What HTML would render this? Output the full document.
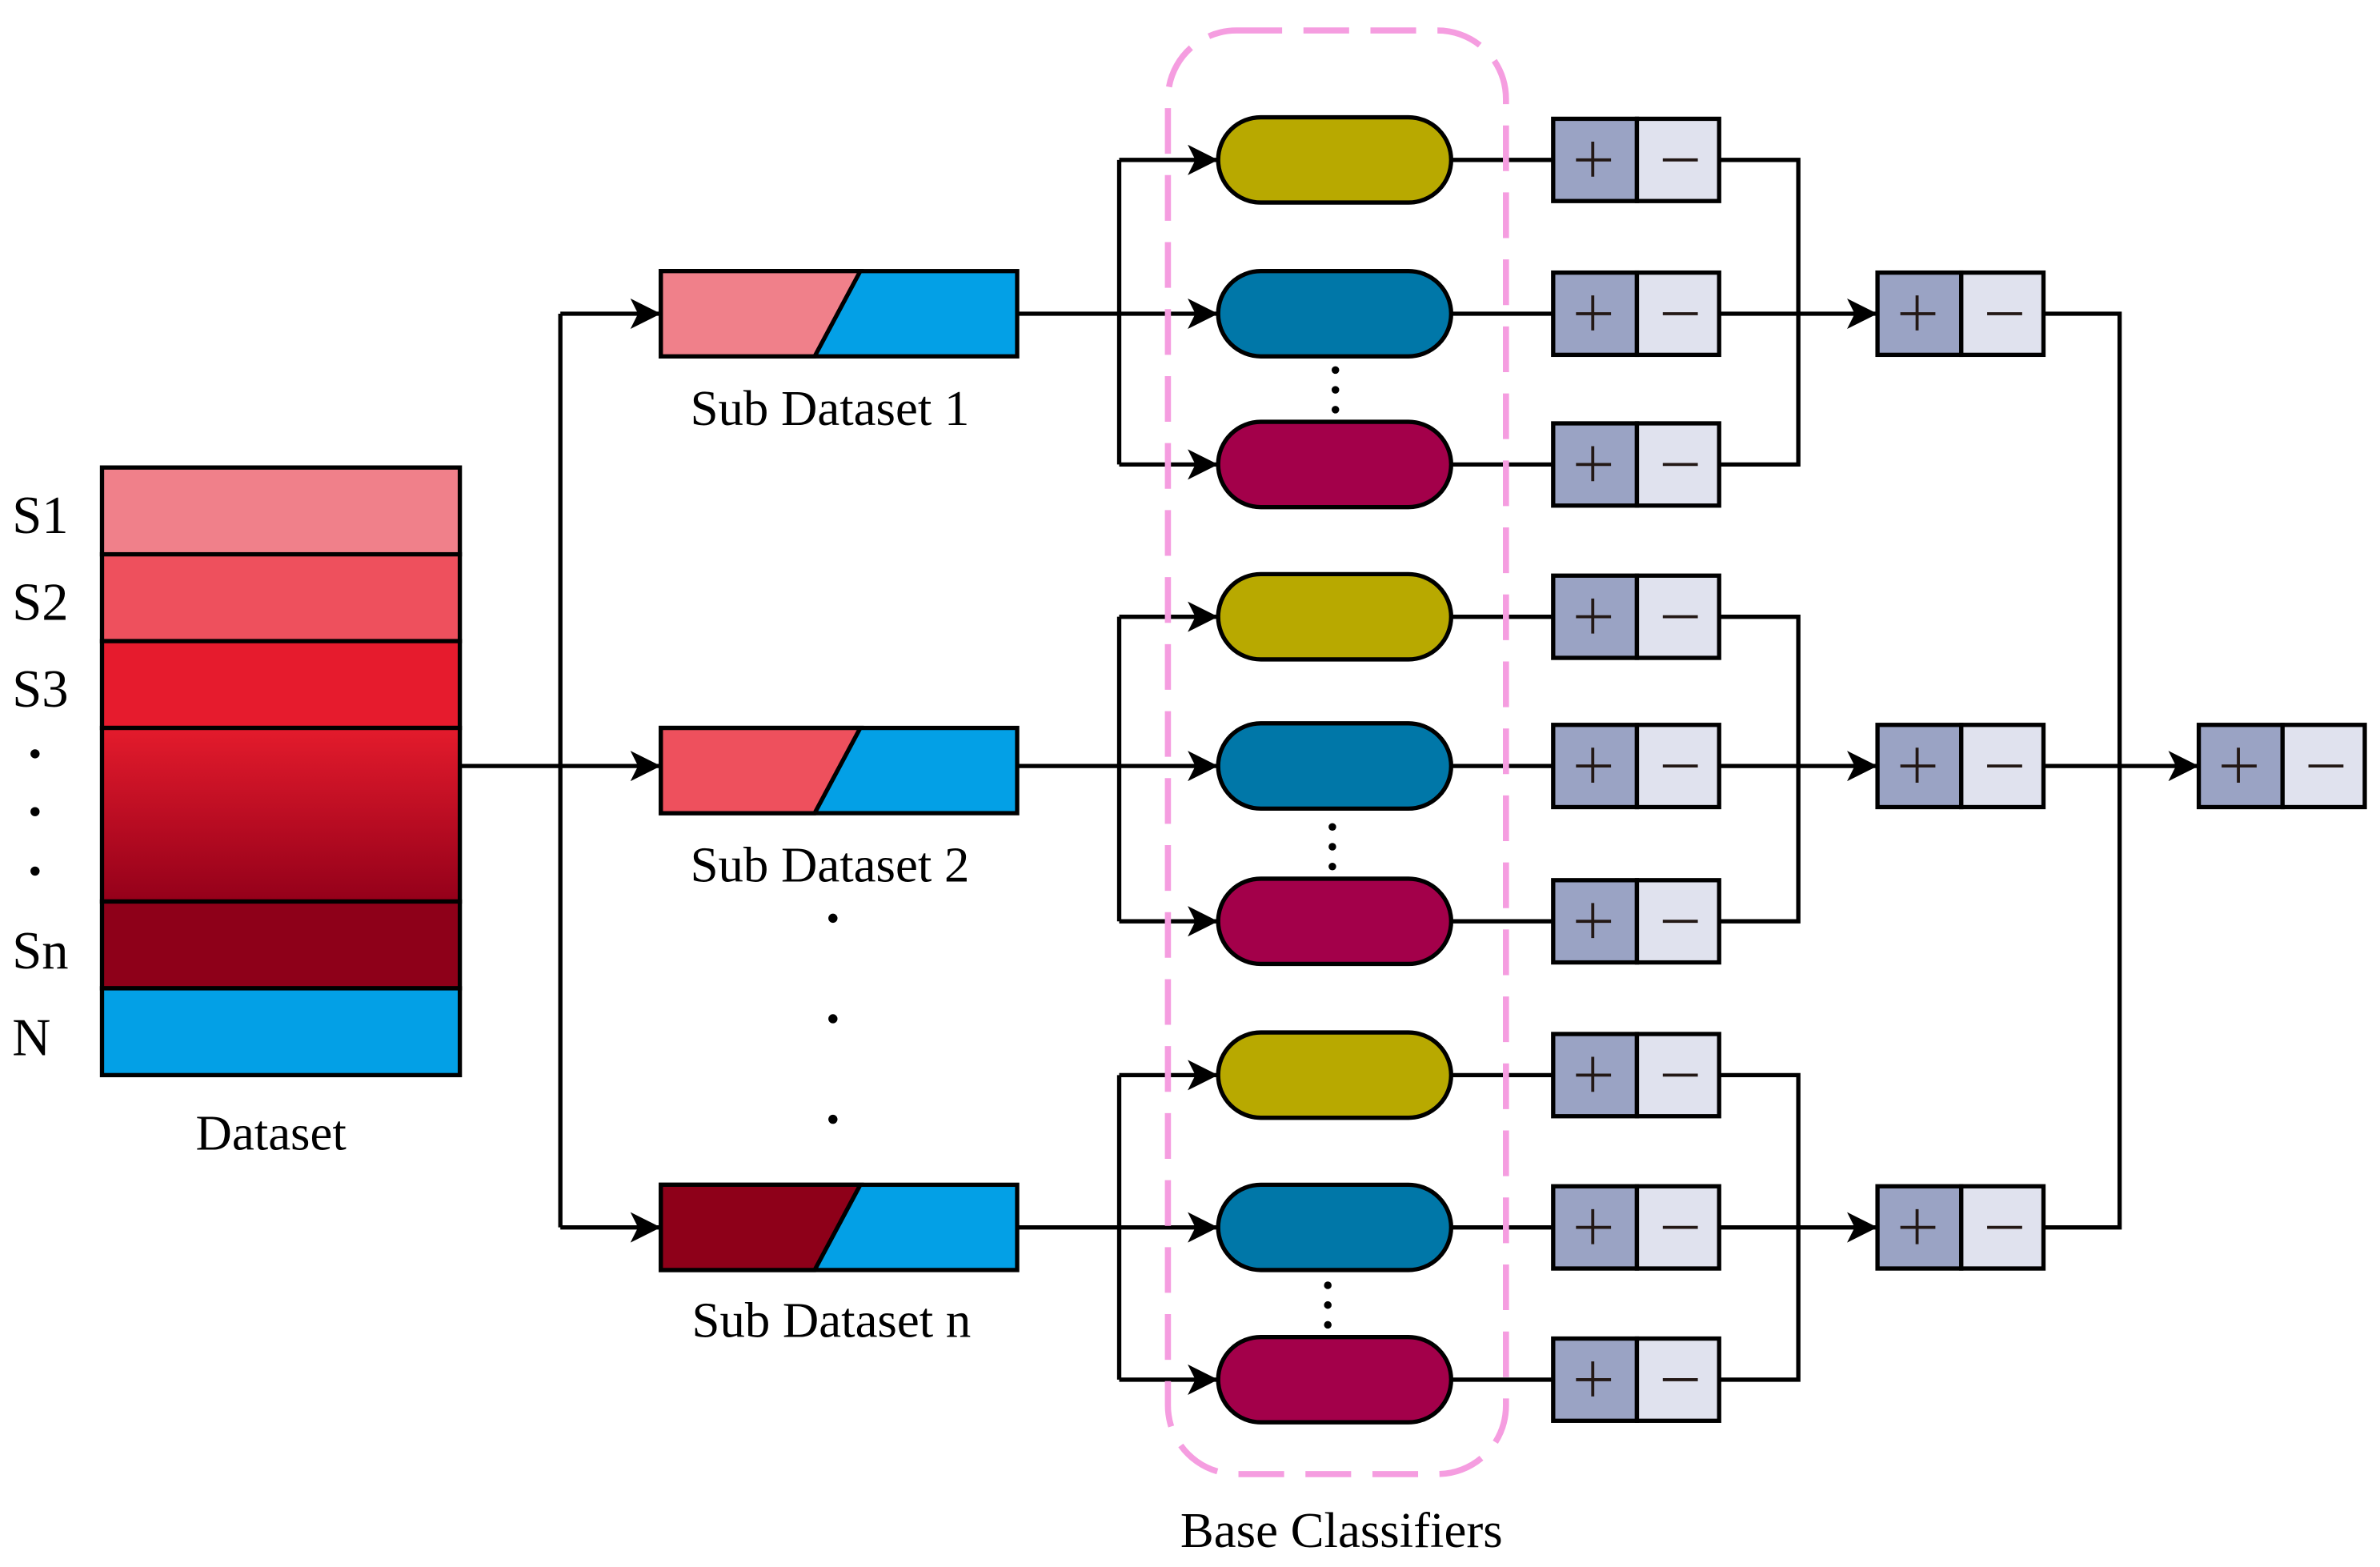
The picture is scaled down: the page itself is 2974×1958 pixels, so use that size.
<!DOCTYPE html>
<html><head><meta charset="utf-8"><style>html,body{margin:0;padding:0;background:#fff}svg{display:block}</style></head><body>
<svg width="2974" height="1958" viewBox="0 0 1563 1029" xmlns="http://www.w3.org/2000/svg" font-family="'Liberation Serif', serif">
<defs>
<linearGradient id="g" x1="0" y1="0" x2="0" y2="1"><stop offset="0" stop-color="#e41b2c"/><stop offset="1" stop-color="#94001a"/></linearGradient>
<marker id="a" viewBox="0 0 20 20" refX="19" refY="10" markerWidth="22" markerHeight="20" markerUnits="userSpaceOnUse" orient="auto"><path d="M0,0 L20,10 L0,20 L5,10 Z" fill="#000"/></marker>
</defs>
<g stroke="#000" stroke-width="2.8">
<rect x="67" y="307" width="235" height="57" fill="#f0808a"/>
<rect x="67" y="364" width="235" height="57" fill="#ee505d"/>
<rect x="67" y="421" width="235" height="57" fill="#e61b2d"/>
<rect x="67" y="478" width="235" height="114" fill="url(#g)"/>
<rect x="67" y="592" width="235" height="57" fill="#8e0019"/>
<rect x="67" y="649" width="235" height="57" fill="#03a0e6"/>
</g>
<g font-size="35" fill="#000">
<text x="8" y="350">S1</text><text x="8" y="407">S2</text><text x="8" y="464">S3</text>
<text x="8" y="636">Sn</text><text x="8" y="693">N</text>
<text x="178" y="755" text-anchor="middle" font-size="33">Dataset</text>
<text x="545" y="279" text-anchor="middle" font-size="33">Sub Dataset 1</text>
<text x="545" y="579" text-anchor="middle" font-size="33">Sub Dataset 2</text>
<text x="546" y="878" text-anchor="middle" font-size="33">Sub Dataset n</text>
<text x="881" y="1016" text-anchor="middle" font-size="33">Base Classifiers</text>
</g>
<g fill="#000"><circle cx="23" cy="495" r="3"/><circle cx="23" cy="533" r="3"/><circle cx="23" cy="572" r="3"/>
<circle cx="547" cy="603" r="3"/><circle cx="547" cy="669" r="3"/><circle cx="547" cy="735" r="3"/>
<circle cx="877" cy="243" r="2.5"/><circle cx="877" cy="256" r="2.5"/><circle cx="877" cy="269" r="2.5"/>
<circle cx="875" cy="543" r="2.5"/><circle cx="875" cy="556" r="2.5"/><circle cx="875" cy="569" r="2.5"/>
<circle cx="872" cy="844" r="2.5"/><circle cx="872" cy="857" r="2.5"/><circle cx="872" cy="870" r="2.5"/></g>
<g stroke="#000" stroke-width="2.8" fill="none">
<path d="M302,503H368M368,206V806"/>
<path d="M368,206H433" marker-end="url(#a)"/><path d="M368,503H433" marker-end="url(#a)"/><path d="M368,806H433" marker-end="url(#a)"/>
<path d="M1341,206H1392V806H1341"/>
<path d="M1341,503H1443" marker-end="url(#a)"/>
</g>
<g stroke="#000" stroke-width="2.8">
<rect x="434" y="178" width="234" height="56" fill="#03a0e6"/><path d="M434,178H565L535,234H434Z" fill="#f0808a"/>
<rect x="434" y="478" width="234" height="56" fill="#03a0e6"/><path d="M434,478H565L535,534H434Z" fill="#ee505d"/>
<rect x="434" y="778" width="234" height="56" fill="#03a0e6"/><path d="M434,778H565L535,834H434Z" fill="#8e0019"/>
</g>
<g stroke="#000" stroke-width="2.8" fill="none">
<path d="M668,206H735M735,105V305"/><path d="M735,105H799" marker-end="url(#a)"/><path d="M735,206H799" marker-end="url(#a)"/><path d="M735,305H799" marker-end="url(#a)"/>
<path d="M668,503H735M735,405V605"/><path d="M735,405H799" marker-end="url(#a)"/><path d="M735,503H799" marker-end="url(#a)"/><path d="M735,605H799" marker-end="url(#a)"/>
<path d="M668,806H735M735,706V906"/><path d="M735,706H799" marker-end="url(#a)"/><path d="M735,806H799" marker-end="url(#a)"/><path d="M735,906H799" marker-end="url(#a)"/>
<path d="M953,105H1020M953,206H1020M953,305H1020M953,405H1020M953,503H1020M953,605H1020M953,706H1020M953,806H1020M953,906H1020"/>
<path d="M1129,105H1181V305H1129M1129,206H1181M1129,405H1181V605H1129M1129,503H1181M1129,706H1181V906H1129M1129,806H1181"/>
<path d="M1181,206H1232" marker-end="url(#a)"/><path d="M1181,503H1232" marker-end="url(#a)"/><path d="M1181,806H1232" marker-end="url(#a)"/>
</g>
<g stroke="#000" stroke-width="2.8">
<rect x="800" y="77" width="153" height="56" rx="28" fill="#b8a900"/>
<rect x="800" y="178" width="153" height="56" rx="28" fill="#0077a8"/>
<rect x="800" y="277" width="153" height="56" rx="28" fill="#a3004a"/>
<rect x="800" y="377" width="153" height="56" rx="28" fill="#b8a900"/>
<rect x="800" y="475" width="153" height="56" rx="28" fill="#0077a8"/>
<rect x="800" y="577" width="153" height="56" rx="28" fill="#a3004a"/>
<rect x="800" y="678" width="153" height="56" rx="28" fill="#b8a900"/>
<rect x="800" y="778" width="153" height="56" rx="28" fill="#0077a8"/>
<rect x="800" y="878" width="153" height="56" rx="28" fill="#a3004a"/>
</g>
<rect x="767" y="20" width="222" height="948" rx="45" fill="none" stroke="#f59de0" stroke-width="4" stroke-dasharray="30,14"/>
<g stroke="#000" stroke-width="2.8">
<g fill="#9aa3c4"><rect x="1020" y="78" width="55" height="54"/><rect x="1020" y="179" width="55" height="54"/><rect x="1020" y="278" width="55" height="54"/><rect x="1020" y="378" width="55" height="54"/><rect x="1020" y="476" width="55" height="54"/><rect x="1020" y="578" width="55" height="54"/><rect x="1020" y="679" width="55" height="54"/><rect x="1020" y="779" width="55" height="54"/><rect x="1020" y="879" width="55" height="54"/><rect x="1233" y="179" width="55" height="54"/><rect x="1233" y="476" width="55" height="54"/><rect x="1233" y="779" width="55" height="54"/><rect x="1444" y="476" width="55" height="54"/></g>
<g fill="#e0e2ee"><rect x="1075" y="78" width="54" height="54"/><rect x="1075" y="179" width="54" height="54"/><rect x="1075" y="278" width="54" height="54"/><rect x="1075" y="378" width="54" height="54"/><rect x="1075" y="476" width="54" height="54"/><rect x="1075" y="578" width="54" height="54"/><rect x="1075" y="679" width="54" height="54"/><rect x="1075" y="779" width="54" height="54"/><rect x="1075" y="879" width="54" height="54"/><rect x="1288" y="179" width="54" height="54"/><rect x="1288" y="476" width="54" height="54"/><rect x="1288" y="779" width="54" height="54"/><rect x="1499" y="476" width="54" height="54"/></g>
</g>
<g stroke="#231815" stroke-width="2" fill="none">
<path d="M1035,105H1058M1046,93V116M1092,105H1115 M1035,206H1058M1046,194V217M1092,206H1115 M1035,305H1058M1046,293V316M1092,305H1115 M1035,405H1058M1046,393V416M1092,405H1115 M1035,503H1058M1046,491V514M1092,503H1115 M1035,605H1058M1046,593V616M1092,605H1115 M1035,706H1058M1046,694V717M1092,706H1115 M1035,806H1058M1046,794V817M1092,806H1115 M1035,906H1058M1046,894V917M1092,906H1115 M1248,206H1271M1259,194V217M1305,206H1328 M1248,503H1271M1259,491V514M1305,503H1328 M1248,806H1271M1259,794V817M1305,806H1328 M1459,503H1482M1470,491V514M1516,503H1539"/>
</g>
</svg>
</body></html>
